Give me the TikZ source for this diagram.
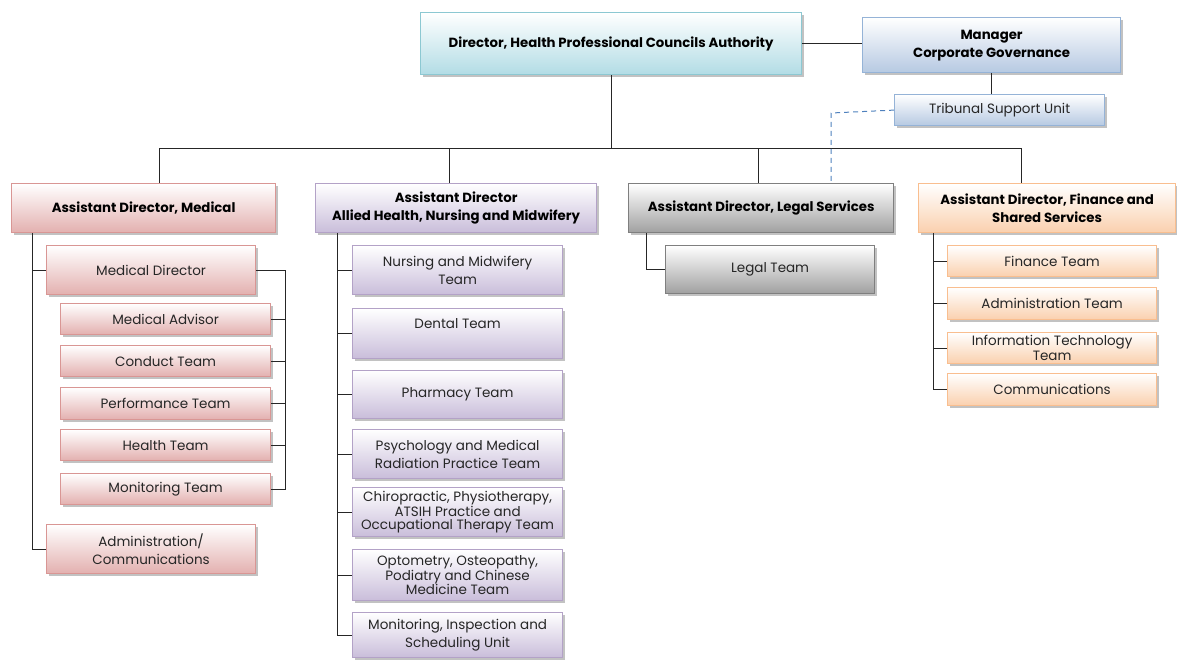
\documentclass[tikz,border=0pt]{standalone}
\usepackage{fontspec}
\setmainfont{Poppins}
\usetikzlibrary{shadows,calc}
\definecolor{cyanF}{HTML}{B2DCE5}\definecolor{cyanD}{HTML}{8CC8D2}
\definecolor{blueF}{HTML}{B6C9E2}\definecolor{blueD}{HTML}{95B3D7}
\definecolor{pinkF}{HTML}{E3B0AF}\definecolor{pinkD}{HTML}{D99694}
\definecolor{lavF}{HTML}{C9BDDA}\definecolor{lavD}{HTML}{B3A2C7}
\definecolor{grayF}{HTML}{A0A0A0}\definecolor{grayD}{HTML}{7F7F7F}
\definecolor{peachF}{HTML}{FAD0AE}\definecolor{peachD}{HTML}{F9BE8F}
\definecolor{dashC}{HTML}{4F81BD}
\definecolor{txt}{HTML}{262626}
\tikzset{
  orgbox/.style={anchor=north west, draw=#1D, line width=1.2pt, top color=white, bottom color=#1F,
    inner sep=2pt, align=center, text=txt, font=\fontsize{13.5}{18}\selectfont,
    drop shadow={shadow xshift=2pt, shadow yshift=-2pt, fill=black!40, opacity=0.6}},
  headbox/.style={orgbox=#1, text=black, font=\fontsize{13.3}{18}\selectfont\bfseries},
  tight/.style={font=\fontsize{13.5}{#1}\selectfont},
  sz/.style 2 args={minimum width=#1pt, minimum height=#2pt},
  link/.style={draw=black!85, line width=1pt},
  dashlink/.style={draw=dashC, line width=1pt, dash pattern=on 5pt off 4pt},
}
\begin{document}
\begin{tikzpicture}[x=1pt,y=-1pt]
\useasboundingbox (0,0) rectangle (1177,659);
% top
\node[headbox=cyan, sz={381}{62}] (dir) at (420,12) {Director, Health Professional Councils Authority};
\node[headbox=blue, sz={258}{55}] (mgr) at (862,17) {Manager\\Corporate Governance};
\node[orgbox=blue, sz={210}{31}] (tsu) at (894,94) {Tribunal Support Unit};
% level 2
\node[headbox=pink, sz={264}{49}] (med) at (11,183) {Assistant Director, Medical};
\node[headbox=lav, sz={281}{49}] (all) at (315,183) {Assistant Director\\Allied Health, Nursing and Midwifery};
\node[headbox=gray, sz={265}{49}] (leg) at (628,183) {Assistant Director, Legal Services};
\node[headbox=peach, sz={257}{49}] (fin) at (918,183) {Assistant Director, Finance and\\Shared Services};
% medical
\node[orgbox=pink, sz={209}{49}] (mdir) at (46,245) {Medical Director};
\node[orgbox=pink, sz={210}{31}] (madv) at (60,303) {Medical Advisor};
\node[orgbox=pink, sz={210}{31}] (cond) at (60,345) {Conduct Team};
\node[orgbox=pink, sz={210}{32}] (perf) at (60,387) {Performance Team};
\node[orgbox=pink, sz={210}{31}] (hlth) at (60,429) {Health Team};
\node[orgbox=pink, sz={210}{31}] (mon) at (60,473) {Monitoring Team};
\node[orgbox=pink, sz={209}{49}] (adm) at (46,524) {Administration/\\Communications};
% allied
\node[orgbox=lav, sz={210}{49}] (nurs) at (352,245) {Nursing and Midwifery\\Team};
\node[orgbox=lav, sz={210}{50}, tight=14] (dent) at (352,308) {Dental Team\\[2pt]\strut};
\node[orgbox=lav, sz={210}{48}] (phar) at (352,370) {Pharmacy Team};
\node[orgbox=lav, sz={210}{49}] (psy) at (352,429) {Psychology and Medical\\Radiation Practice Team};
\node[orgbox=lav, sz={210}{49}, tight=12.5] (chir) at (352,487) {Chiropractic, Physiotherapy,\\ATSIH Practice and\\Occupational Therapy Team};
\node[orgbox=lav, sz={210}{51}, tight=13] (opt) at (352,549) {Optometry, Osteopathy,\\Podiatry and Chinese\\Medicine Team};
\node[orgbox=lav, sz={210}{45}] (misu) at (352,612) {Monitoring, Inspection and\\Scheduling Unit};
% legal
\node[orgbox=gray, sz={209}{48}] (lteam) at (665,245) {Legal Team};
% finance
\node[orgbox=peach, sz={209}{31}] (fteam) at (947,245) {Finance Team};
\node[orgbox=peach, sz={209}{32}] (ateam) at (947,287) {Administration Team};
\node[orgbox=peach, sz={209}{31}, tight=14.5] (it) at (947,332) {Information Technology\\Team};
\node[orgbox=peach, sz={209}{32}] (comm) at (947,373) {Communications};
% coordinates
\coordinate (bm) at (159,148);
\coordinate (ba) at (449,148);
\coordinate (bl) at (758,148);
\coordinate (bf) at (1021,148);
\coordinate (dsh) at (831,113);
\coordinate (mt) at (32,233);
\coordinate (rb) at (285,271);
\coordinate (at) at (337,233);
\coordinate (lt) at (646,233);
\coordinate (ft) at (933,233);
% connectors
\draw[link] (dir.east) -- (dir.east -| mgr.west);
\draw[link] (mgr.south) -- (mgr.south |- tsu.north);
\draw[link] (dir.south) -- (dir.south |- bm);
\draw[link] (bm) -- (bf);
\draw[link] (bm) -- (bm |- med.north);
\draw[link] (ba) -- (ba |- all.north);
\draw[link] (bl) -- (bl |- leg.north);
\draw[link] (bf) -- (bf |- fin.north);
\draw[dashlink] (tsu.west) -- (dsh) -- (dsh |- leg.north);
% medical
\draw[link] (mt) |- (adm.west);
\draw[link] (mt |- mdir.west) -- (mdir.west);
\draw[link] (mdir.east) -| (rb |- mon.east) -- (mon.east);
\draw[link] (madv.east) -- (madv.east -| rb);
\draw[link] (cond.east) -- (cond.east -| rb);
\draw[link] (perf.east) -- (perf.east -| rb);
\draw[link] (hlth.east) -- (hlth.east -| rb);
% allied
\draw[link] (at) |- (misu.west);
\foreach \n in {nurs,dent,phar,psy,chir,opt}{\draw[link] (at |- \n.west) -- (\n.west);}
% legal
\draw[link] (lt) |- (lteam.west);
% finance
\draw[link] (ft) |- (comm.west);
\foreach \n in {fteam,ateam,it}{\draw[link] (ft |- \n.west) -- (\n.west);}
\end{tikzpicture}
\end{document}
